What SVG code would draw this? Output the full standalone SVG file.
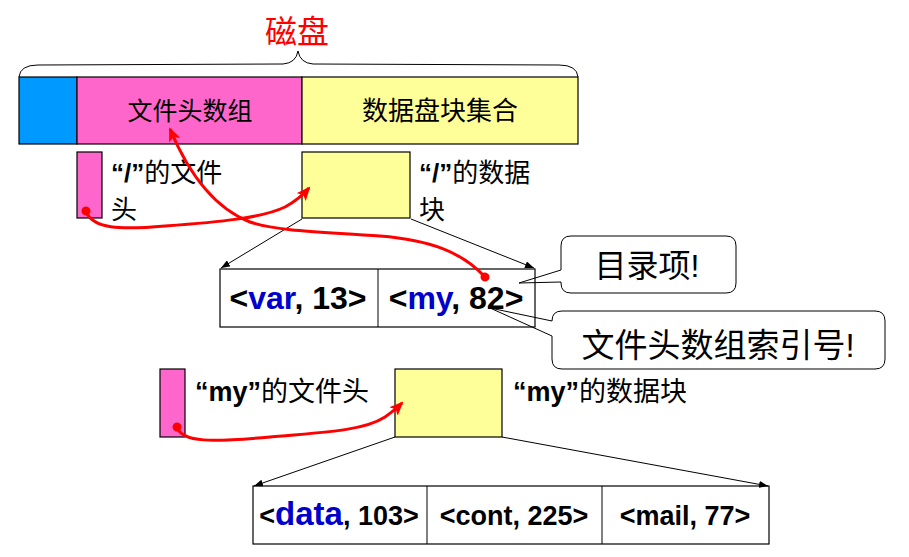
<svg xmlns="http://www.w3.org/2000/svg" width="909" height="557" viewBox="0 0 909 557">
<style>
.box{stroke:#000;stroke-width:1.2}
.blue{fill:#0099FF}
.pink{fill:#FF66CC}
.yel{fill:#FFFF99}
.cjk{font-family:"Noto Sans CJK SC","Liberation Sans",sans-serif}
.lat{font-family:"Liberation Sans",Arial,sans-serif;font-weight:bold}
.ex{font-family:"Liberation Sans",Arial,sans-serif}
.ent{font-family:"Liberation Sans",Arial,sans-serif;font-weight:bold;fill:#000}
.nm{fill:#0000CC}
.thin{fill:none;stroke:#000;stroke-width:1}
.red{fill:none;stroke:#FF0000;stroke-width:3}
</style>
<defs>
<marker id="ab" markerUnits="userSpaceOnUse" markerWidth="9" markerHeight="7" refX="9" refY="3.5" orient="auto"><path d="M0,0 L9,3.5 L0,7 z" fill="#000"/></marker>
<marker id="ar" markerUnits="userSpaceOnUse" markerWidth="14" markerHeight="12" refX="12" refY="6" orient="auto"><path d="M0,0 L14,6 L0,12 L3,6 z" fill="#FF0000"/></marker>
<marker id="dot" markerUnits="userSpaceOnUse" markerWidth="10" markerHeight="10" refX="5" refY="5" orient="auto"><circle cx="5" cy="5" r="4.5" fill="#FF0000"/></marker>
</defs>

<g id="title">
<text x="297" y="43" class="cjk" font-size="32" fill="#FF0000" text-anchor="middle">磁盘</text>
<path d="M19,77 Q20,65 38,65 L283,64 Q296,63 298,51 Q300,63 313,64 L559,65 Q577,65 578,77" class="thin"/>
</g>

<g id="disk">
<rect x="19" y="77" width="58" height="67" class="box blue"/>
<rect x="77" y="77" width="225" height="67" class="box pink"/>
<rect x="302" y="77" width="276" height="67" class="box yel"/>
<text x="190" y="120" class="cjk" font-size="25" text-anchor="middle">文件头数组</text>
<text x="440" y="120" class="cjk" font-size="26" text-anchor="middle">数据盘块集合</text>
</g>

<g id="root-header">
<rect x="77" y="152" width="25" height="66" class="box pink"/>
<text x="111" y="182" class="cjk" font-size="26"><tspan class="lat">“/”</tspan>的文件</text>
<text x="111" y="219" class="cjk" font-size="26">头</text>
</g>

<g id="root-block">
<rect x="302" y="152" width="108" height="66" class="box yel"/>
<text x="419" y="182" class="cjk" font-size="26"><tspan class="lat">“/”</tspan>的数据</text>
<text x="419" y="219" class="cjk" font-size="26">块</text>
</g>

<g id="root-dir">
<rect x="220" y="269" width="315" height="58" class="box" fill="#fff"/>
<line x1="378" y1="269" x2="378" y2="327" class="thin"/>
<text x="298" y="309" class="ent" font-size="32" text-anchor="middle">&lt;<tspan class="nm">var</tspan>, 13&gt;</text>
<text x="456" y="309" class="ent" font-size="32" text-anchor="middle">&lt;<tspan class="nm">my</tspan>, 82&gt;</text>
</g>

<g id="callout-entry">
<path d="M571,236 H726 Q736,236 736,246 V283 Q736,293 726,293 H571 Q561,293 561,283 V282 L519,283 L561,270 V246 Q561,236 571,236 Z" fill="#fff" class="thin"/>
<text x="647" y="277" class="cjk" font-size="32" text-anchor="middle">目录项<tspan class="ex">!</tspan></text>
</g>

<g id="callout-index">
<path d="M562,311 H875 Q885,311 885,321 V359 Q885,369 875,369 H562 Q552,369 552,359 V336 L490,308 L552,321 Q552,311 562,311 Z" fill="#fff" class="thin"/>
<text x="718" y="357" class="cjk" font-size="33" text-anchor="middle">文件头数组索引号<tspan class="ex">!</tspan></text>
</g>

<g id="my-header">
<rect x="160" y="369" width="25" height="68" class="box pink"/>
<text x="195" y="401" class="cjk" font-size="27"><tspan class="lat">“my”</tspan>的文件头</text>
</g>

<g id="my-block">
<rect x="395" y="369" width="107" height="68" class="box yel"/>
<text x="513" y="401" class="cjk" font-size="27"><tspan class="lat">“my”</tspan>的数据块</text>
</g>

<g id="my-dir">
<rect x="253" y="486" width="516" height="58" class="box" fill="#fff"/>
<line x1="427" y1="486" x2="427" y2="544" class="thin"/>
<line x1="602" y1="486" x2="602" y2="544" class="thin"/>
<text x="339" y="525" class="ent" font-size="27" text-anchor="middle">&lt;<tspan class="nm" font-size="33">data</tspan>, 103&gt;</text>
<text x="514" y="525" class="ent" font-size="27" text-anchor="middle">&lt;cont, 225&gt;</text>
<text x="685" y="525" class="ent" font-size="27" text-anchor="middle">&lt;mail, 77&gt;</text>
</g>

<g id="connectors">
<line x1="302" y1="219" x2="221" y2="268" class="thin" marker-end="url(#ab)"/>
<line x1="411" y1="219" x2="534" y2="268" class="thin" marker-end="url(#ab)"/>
<line x1="395" y1="437" x2="254" y2="486" class="thin" marker-end="url(#ab)"/>
<line x1="502" y1="437" x2="768" y2="486" class="thin" marker-end="url(#ab)"/>
<path d="M86,211 C92,229 120,230 165,226 C220,222 262,218 285,207 C296,201 303,195 309,188" class="red" marker-start="url(#dot)" marker-end="url(#ar)"/>
<path d="M485,277 C462,252 430,240 380,236 C330,232 280,232 250,222 C214,208 188,172 170,129" class="red" marker-start="url(#dot)" marker-end="url(#ar)"/>
<path d="M177,427 C182,443 212,442 270,437 C330,432 365,430 385,417 C392,412 397,408 402,403" class="red" marker-start="url(#dot)" marker-end="url(#ar)"/>
</g>
</svg>
